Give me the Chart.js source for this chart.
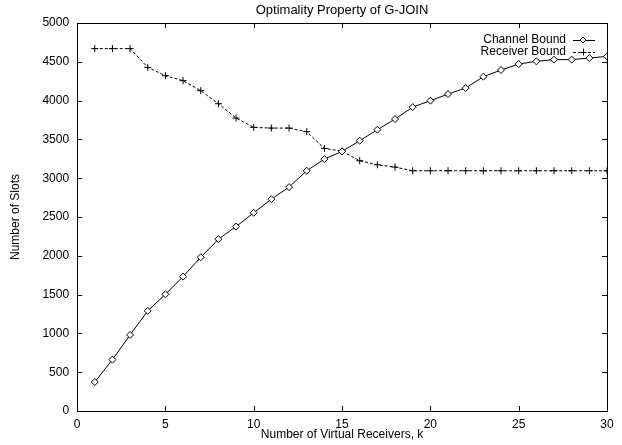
<!DOCTYPE html>
<html>
<head>
<meta charset="utf-8">
<script src="https://cdn.jsdelivr.net/npm/chart.js@4/dist/chart.umd.min.js"></script>
<style>
  html, body { margin: 0; padding: 0; background: #fff; }
  #wrap { width: 622px; height: 445px; }
</style>
</head>
<body>
<div id="wrap"><canvas id="optChart" width="622" height="445"></canvas></div>
<script>
const k = [1, 2, 3, 4, 5, 6, 7, 8, 9, 10, 11, 12, 13, 14, 15,
           16, 17, 18, 19, 20, 21, 22, 23, 24, 25, 26, 27, 28, 29, 30];
const channelBound = [374, 662, 980, 1290, 1504, 1732, 1981, 2214, 2377, 2554,
                      2730, 2885, 3096, 3246, 3345, 3483, 3625, 3762, 3916, 3999,
                      4084, 4162, 4308, 4394, 4471, 4506, 4528, 4528, 4549, 4570];
const receiverBound = [4670, 4670, 4670, 4428, 4321, 4257, 4128, 3960, 3775, 3655,
                       3646, 3646, 3599, 3384, 3349, 3225, 3173, 3143, 3096, 3096,
                       3096, 3096, 3096, 3096, 3096, 3096, 3096, 3096, 3096, 3096];
const xTicks = [0, 5, 10, 15, 20, 25, 30];
const yTicks = [0, 500, 1000, 1500, 2000, 2500, 3000, 3500, 4000, 4500, 5000];

const FONT = 'Liberation Sans, Arial, Helvetica, sans-serif';

// gnuplot-like frame: border box with inward ticks on all four sides, title and key
const gnuplotFrame = {
  id: 'gnuplotFrame',
  afterDraw(chart) {
    const {ctx, chartArea: a, scales} = chart;
    ctx.save();
    ctx.strokeStyle = '#000';
    ctx.lineWidth = 1;
    ctx.strokeRect(Math.round(a.left) + 0.5, Math.round(a.top) + 0.5,
                   Math.round(a.right - a.left), Math.round(a.bottom - a.top));
    const t = 5;
    ctx.beginPath();
    xTicks.forEach(v => {
      const x = Math.round(scales.x.getPixelForValue(v)) + 0.5;
      ctx.moveTo(x, a.bottom); ctx.lineTo(x, a.bottom - t);
      ctx.moveTo(x, a.top); ctx.lineTo(x, a.top + t);
    });
    yTicks.forEach(v => {
      const y = Math.round(scales.y.getPixelForValue(v)) + 0.5;
      ctx.moveTo(a.left, y); ctx.lineTo(a.left + t, y);
      ctx.moveTo(a.right, y); ctx.lineTo(a.right - t, y);
    });
    ctx.stroke();

    // title centred over the plot area
    ctx.fillStyle = '#000';
    ctx.font = '13px ' + FONT;
    ctx.textAlign = 'center';
    ctx.textBaseline = 'middle';
    ctx.fillText('Optimality Property of G-JOIN', (a.left + a.right) / 2, 10);

    // key, top right
    ctx.font = '12px ' + FONT;
    ctx.textAlign = 'right';
    chart.data.datasets.forEach((ds, i) => {
      const y = a.top + 17 + i * 12;
      const tx = a.right - 41;
      ctx.fillText(ds.label, tx, y);
      ctx.beginPath();
      ctx.setLineDash(ds.borderDash || []);
      ctx.moveTo(tx + 7, y + 0.5); ctx.lineTo(tx + 29, y + 0.5);
      ctx.stroke();
      ctx.setLineDash([]);
      const mx = tx + 17;
      ctx.beginPath();
      if (ds.pointStyle === 'rectRot') {
        const r = 3;
        ctx.moveTo(mx, y - r); ctx.lineTo(mx + r, y); ctx.lineTo(mx, y + r); ctx.lineTo(mx - r, y); ctx.closePath();
        ctx.fillStyle = '#fff'; ctx.fill(); ctx.fillStyle = '#000';
      } else {
        const r = 3.5;
        ctx.moveTo(mx - r, y + 0.5); ctx.lineTo(mx + r, y + 0.5);
        ctx.moveTo(mx + 0.5, y - r); ctx.lineTo(mx + 0.5, y + r);
      }
      ctx.stroke();
    });
    ctx.restore();
  }
};

const ctx = document.getElementById('optChart').getContext('2d');
const chart = new Chart(ctx, {
  type: 'line',
  data: {
    datasets: [{
      label: 'Channel Bound',
      data: k.map((x, i) => ({x: x, y: channelBound[i]})),
      borderColor: '#000',
      borderWidth: 1,
      pointStyle: 'rectRot',
      pointRadius: 3.5,
      pointBorderWidth: 1,
      pointBackgroundColor: '#fff',
      pointBorderColor: '#000',
      tension: 0
    }, {
      label: 'Receiver Bound',
      data: k.map((x, i) => ({x: x, y: receiverBound[i]})),
      borderColor: '#000',
      borderWidth: 1,
      borderDash: [3, 2],
      pointStyle: 'cross',
      pointRadius: 3.5,
      pointBorderWidth: 1,
      pointBorderColor: '#000',
      tension: 0
    }]
  },
  options: {
    responsive: false,
    animation: false,
    layout: {
      padding: {top: 23, right: 15, left: 0, bottom: 0}
    },
    plugins: {
      legend: {display: false},
      tooltip: {enabled: false},
      title: {display: false}
    },
    scales: {
      x: {
        type: 'linear',
        min: 0,
        max: 30,
        grid: {display: false, drawTicks: false},
        border: {display: false},
        afterBuildTicks: (axis) => { axis.ticks = xTicks.map(v => ({value: v})); },
        ticks: {
          color: '#000',
          font: {family: FONT, size: 12, lineHeight: 1},
          padding: 8,
          maxRotation: 0
        },
        title: {
          display: true,
          text: 'Number of Virtual Receivers, k',
          color: '#000',
          font: {family: FONT, size: 12, lineHeight: 1},
          padding: {top: -10, bottom: 4}
        }
      },
      y: {
        type: 'linear',
        min: 0,
        max: 5000,
        grid: {display: false, drawTicks: false},
        border: {display: false},
        afterBuildTicks: (axis) => { axis.ticks = yTicks.map(v => ({value: v})); },
        ticks: {
          color: '#000',
          font: {family: FONT, size: 12},
          padding: 8,
          callback: (value) => String(value)
        },
        title: {
          display: true,
          text: 'Number of Slots',
          color: '#000',
          font: {family: FONT, size: 12},
          padding: {top: 8, bottom: 12}
        }
      }
    }
  },
  plugins: [gnuplotFrame]
});
</script>
</body>
</html>
